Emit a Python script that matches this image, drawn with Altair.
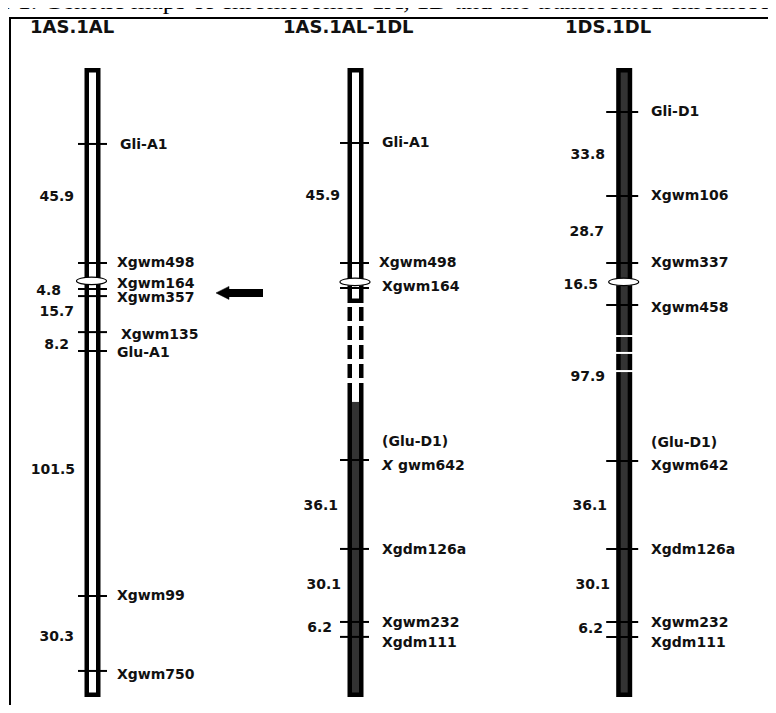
import altair as alt
import pandas as pd

# ---------------- data ----------------
chrom_titles = ["1AS.1AL", "1AS.1AL-1DL", "1DS.1DL"]
caption = "Fig. 1. Genetic maps of chromosomes 1A, 1D and the translocated chromosome 1AS.1AL-1DL"

# map positions in map units from the top of each chromosome
c1_markers = ["Gli-A1", "Xgwm498", "Xgwm164", "Xgwm357", "Xgwm135", "Glu-A1", "Xgwm99", "Xgwm750"]
c1_marker_pos = [31.0, 79.6, 90.2, 93.1, 107.8, 115.5, 215.5, 246.1]
c1_dist_labels = ["45.9", "4.8", "15.7", "8.2", "101.5", "30.3"]
c1_dist_pos = [52.7, 91.0, 99.6, 113.1, 164.1, 232.2]
c1_centromere = 86.9
c1_length = 256.7
arrow_pos = 91.8

c2_markers = ["Gli-A1", "Xgwm498", "Xgwm164", "Xgwm642", "Xgdm126a", "Xgwm232", "Xgdm111"]
c2_marker_pos = [30.6, 79.6, 89.8, 160.0, 196.3, 226.1, 232.2]
c2_dist_labels = ["45.9", "36.1", "30.1", "6.2"]
c2_dist_pos = [52.2, 178.8, 211.0, 228.6]
c2_centromere = 87.3
c2_1A_end = 95.9
c2_gap = [97.6, 131.0]
c2_1D_fill_start = 136.3
c2_length = 256.7

c3_markers = ["Gli-D1", "Xgwm106", "Xgwm337", "Xgwm458", "Xgwm642", "Xgdm126a", "Xgwm232", "Xgdm111"]
c3_marker_pos = [18.0, 52.2, 79.6, 96.7, 160.4, 196.3, 226.1, 232.2]
c3_dist_labels = ["33.8", "28.7", "16.5", "97.9", "36.1", "30.1", "6.2"]
c3_dist_pos = [35.5, 66.9, 88.6, 126.1, 178.8, 211.0, 229.0]
c3_centromere = 87.3
c3_breaks = [109.4, 116.3, 123.7]
c3_length = 256.7

glu_label = "(Glu-D1)"

# ---------------- layout / style ----------------
W, H = 760, 697
PX_PER_UNIT = 2.45
TOP = 60
ydom = [-TOP / PX_PER_UNIT, (H - TOP) / PX_PER_UNIT]
col_x = [84.5, 347.5, 616.2]
title_x = [22, 275, 557]
tick_ext = [(-14.5, 14.5), (-15.5, 13.5), (-18, 14)]
label_x = [109, 374, 643]
c1_label_dy = [1, 0, -5, 2, 3, 2, 0, 4]
c1_label_dx = [3, 0, 0, 0, 4, 0, 0, 0]
c2_label_dy = [0, 0, -1, 6, 1, 1, 6]
c2_label_dx = [0, -3, 0, 0, 0, 0, 0]
c3_label_dy = [0, 0, 0, 3, 5, 1, 1, 6]
c3_label_dx = [0, 0, 0, 0, 0, 0, 0, 0]
c1_dist_x = [66, 53, 66, 61, 67, 66]
c2_dist_x = [332, 330, 333, 324]
c3_dist_x = [597, 596, 590, 597, 599, 602, 595]
HALF = 5.75
SW = 4.5
DARK = "#333333"
FONT = "DejaVu Sans"
TXT = "#111111"

xs = alt.Scale(domain=[0, W], nice=False, zero=False)
ys = alt.Scale(domain=ydom, nice=False, zero=False, reverse=True)


def ex(f):
    return alt.X(f"{f}:Q", scale=xs, axis=None)


def ey(f):
    return alt.Y(f"{f}:Q", scale=ys, axis=None)


def px2u(p):
    return p / PX_PER_UNIT


# ---------------- tables ----------------
bars = pd.DataFrame([
    dict(x=col_x[0] - HALF, x2=col_x[0] + HALF, y=0, y2=c1_length, fill="white"),
    dict(x=col_x[1] - HALF, x2=col_x[1] + HALF, y=0, y2=c2_1A_end, fill="white"),
    dict(x=col_x[1] - HALF, x2=col_x[1] + HALF, y=c2_gap[1], y2=c2_length, fill=DARK),
    dict(x=col_x[2] - HALF, x2=col_x[2] + HALF, y=0, y2=c3_length, fill=DARK),
])
inner = HALF - SW / 2
patch = pd.DataFrame([dict(x=col_x[1] - inner, x2=col_x[1] + inner, y=c2_gap[1], y2=c2_1D_fill_start)])
dashes = pd.DataFrame([
    dict(x=col_x[1] - HALF, y=c2_gap[0], y2=c2_gap[1]),
    dict(x=col_x[1] + HALF, y=c2_gap[0], y2=c2_gap[1]),
])
breaks = pd.DataFrame([dict(x=col_x[2] - 10, x2=col_x[2] + 10, y=b) for b in c3_breaks])

ticks_rows, label_rows, dist_rows = [], [], []
italic_rows = []
chroms = [
    (c1_markers, c1_marker_pos, c1_label_dy, c1_label_dx, c1_dist_labels, c1_dist_pos, c1_dist_x),
    (c2_markers, c2_marker_pos, c2_label_dy, c2_label_dx, c2_dist_labels, c2_dist_pos, c2_dist_x),
    (c3_markers, c3_marker_pos, c3_label_dy, c3_label_dx, c3_dist_labels, c3_dist_pos, c3_dist_x),
]
for i, (mk, mp, ldy, ldx, dl, dp, dx) in enumerate(chroms):
    lo, hi = tick_ext[i]
    for name, pos, dyy, dxx in zip(mk, mp, ldy, ldx):
        ticks_rows.append(dict(x=col_x[i] + lo, x2=col_x[i] + hi, y=pos))
        ly = pos + px2u(dyy)
        if name == "Xgwm642":
            label_rows.append(dict(x=label_x[i], y=pos - px2u(18), text=glu_label))
            if i == 1:
                italic_rows.append(dict(x=label_x[i], y=ly, text="X"))
                label_rows.append(dict(x=label_x[i] + 16, y=ly, text="gwm642"))
                continue
        label_rows.append(dict(x=label_x[i] + dxx, y=ly, text=name))
    for t, p, xx in zip(dl, dp, dx):
        dist_rows.append(dict(x=xx, y=p, text=t))

ticks = pd.DataFrame(ticks_rows)
labels = pd.DataFrame(label_rows)
italics = pd.DataFrame(italic_rows)
dists = pd.DataFrame(dist_rows)
cents = pd.DataFrame([
    dict(x=col_x[0] - 1, y=c1_centromere),
    dict(x=col_x[1] - 0.5, y=c2_centromere),
    dict(x=col_x[2] - 0.5, y=c3_centromere),
])
titles = pd.DataFrame([dict(x=tx, text=t) for tx, t in zip(title_x, chrom_titles)])
arrow_shaft = pd.DataFrame([dict(x=216, x2=255, y=arrow_pos)])
arrow_head = pd.DataFrame([dict(x=214.5, y=arrow_pos)])
cap = pd.DataFrame([dict(x=-38, text=caption)])

ELLIPSE = ("M-1,0 C-1,-0.138 -0.552,-0.25 0,-0.25 C0.552,-0.25 1,-0.138 1,0 "
           "C1,0.138 0.552,0.25 0,0.25 C-0.552,0.25 -1,0.138 -1,0 Z")
TRI = "M-1,0 L1,-1 L1,1 Z"

# ---------------- layers ----------------
frame_v = alt.Chart(cap).mark_rule(color="black", strokeWidth=2).encode(
    x=alt.value(2), y=alt.value(10), y2=alt.value(H))
frame_h = alt.Chart(cap).mark_rule(color="black", strokeWidth=2).encode(
    x=alt.value(1), x2=alt.value(W), y=alt.value(10))
caption_l = alt.Chart(cap).mark_text(
    font="Liberation Serif", fontSize=26, align="left", baseline="alphabetic", color="black"
).encode(x=ex("x"), y=alt.value(1), text="text:N")

title_l = alt.Chart(titles).mark_text(
    font=FONT, fontWeight="bold", fontSize=18, align="left", baseline="middle", color=TXT
).encode(x=ex("x"), y=alt.value(20), text="text:N")

bar_l = alt.Chart(bars).mark_rect(stroke="black", strokeWidth=SW, yOffset=SW / 2, y2Offset=-SW / 2).encode(
    x=ex("x"), x2=alt.X2("x2:Q"), y=ey("y"), y2=alt.Y2("y2:Q"), fill=alt.Color("fill:N", scale=None))
patch_l = alt.Chart(patch).mark_rect(fill="white", yOffset=-3).encode(
    x=ex("x"), x2=alt.X2("x2:Q"), y=ey("y"), y2=alt.Y2("y2:Q"))
dash_l = alt.Chart(dashes).mark_rule(color="black", strokeWidth=SW, strokeDash=[14, 5]).encode(
    x=ex("x"), y=ey("y"), y2=alt.Y2("y2:Q"))
break_l = alt.Chart(breaks).mark_rule(color="white", strokeWidth=2).encode(
    x=ex("x"), x2=alt.X2("x2:Q"), y=ey("y"))
tick_l = alt.Chart(ticks).mark_rule(color="black", strokeWidth=2).encode(
    x=ex("x"), x2=alt.X2("x2:Q"), y=ey("y"))
cent_l = alt.Chart(cents).mark_point(
    shape=ELLIPSE, size=900, filled=True, fill="white", stroke="black", strokeWidth=1.2, opacity=1
).encode(x=ex("x"), y=ey("y"))
label_l = alt.Chart(labels).mark_text(
    font=FONT, fontWeight="bold", fontSize=14, align="left", baseline="middle", color=TXT
).encode(x=ex("x"), y=ey("y"), text="text:N")
italic_l = alt.Chart(italics).mark_text(
    font=FONT, fontWeight="bold", fontStyle="italic", fontSize=14, align="left", baseline="middle", color=TXT
).encode(x=ex("x"), y=ey("y"), text="text:N")
dist_l = alt.Chart(dists).mark_text(
    font=FONT, fontWeight="bold", fontSize=14, align="right", baseline="middle", color=TXT
).encode(x=ex("x"), y=ey("y"), text="text:N")
shaft_l = alt.Chart(arrow_shaft).mark_rule(color="black", strokeWidth=8).encode(
    x=ex("x"), x2=alt.X2("x2:Q"), y=ey("y"))
head_l = alt.Chart(arrow_head).mark_point(
    shape=TRI, size=169, filled=True, fill="black", stroke="black", strokeWidth=0.5, opacity=1
).encode(x=ex("x"), y=ey("y"))

chart = alt.layer(
    frame_v, frame_h, caption_l, title_l, bar_l, patch_l, dash_l, break_l, tick_l, cent_l,
    label_l, italic_l, dist_l, shaft_l, head_l
).properties(
    width=W, height=H, padding=0, autosize=alt.AutoSizeParams(type="none"), background="white"
).configure_view(stroke=None)

chart.save("out.html", embed_options={"renderer": "svg", "actions": False})
